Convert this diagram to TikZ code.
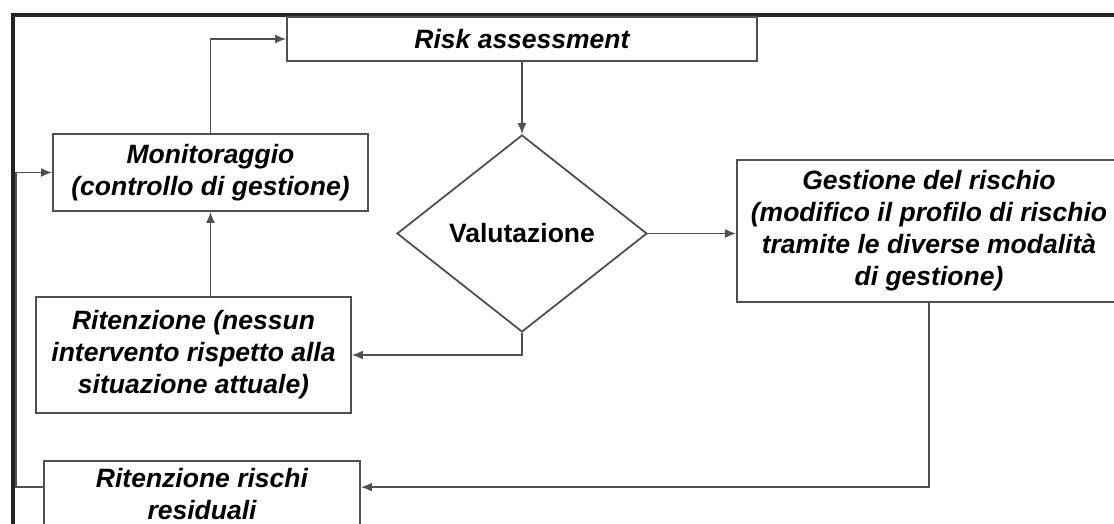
\documentclass[tikz,border=0pt]{standalone}
\usepackage{fontspec}
\setmainfont{Liberation Sans}
\usetikzlibrary{shapes.geometric,arrows.meta}
\definecolor{boxgray}{RGB}{80,80,80}
\definecolor{framegray}{RGB}{35,35,35}
\begin{document}
\begin{tikzpicture}[x=1pt,y=-1pt,
		box/.style={draw=boxgray, line width=1.8pt, fill=white, align=center, inner sep=0pt,
			font=\fontsize{26.5}{32}\selectfont\bfseries\itshape},
		arr/.style={-{Latex[length=11pt,width=9pt]}, line width=1.8pt, draw=boxgray}]
			% Fix the page and clip the cut off frame
			\clip (0,0) rectangle (1114,524);
			\fill[white] (0,0) rectangle (1114,524);
			
			% Outer frame
			\draw[framegray, line width=3.2pt] (13,600) -- (13,15) -- (1200,15);
			
			% Boxes
			\node[box, minimum width=470pt, minimum height=44pt] (risk) at (522,39) {Risk assessment};
			\node[box, minimum width=315pt, minimum height=77pt] (monit) at (210.5,172.5)
			{Monitoraggio\\(controllo di gestione)};
			\node[box, shape=diamond, minimum width=250pt, minimum height=197pt,
			font=\fontsize{26.5}{32}\selectfont\bfseries] (valut) at (522,233.5) {\raisebox{-12pt}{Valutazione}};
			\node[box, minimum width=384pt, minimum height=142pt] (gest) at (929,231)
			{Gestione del rischio\\(modifico il profilo di rischio\\tramite le diverse modalità\\di gestione)};
			\node[box, minimum width=315pt, minimum height=116pt] (riten) at (193.5,355)
			{Ritenzione (nessun\\intervento rispetto alla\\situazione attuale)};
			\node[box, minimum width=316pt, minimum height=66pt] (resid) at (202,494)
			{Ritenzione rischi\\residuali};
			
			% Connectors
			\draw[arr] (monit.north) |- (risk.west);
			\draw[arr] (risk.south) -- (valut.north);
			\draw[arr] (valut.east) -- (valut.east -| gest.west);
			\draw[arr] (valut.south) |- (riten.east);
			\draw[arr] (monit.south |- riten.north) -- (monit.south);
			\draw[arr] (gest.south) |- ([yshift=-27pt]resid.north east);
			\draw[arr] ([yshift=-27pt]resid.north west) -- ++(-27,0) |- (monit.west);
			
		\end{tikzpicture}
\end{document}
